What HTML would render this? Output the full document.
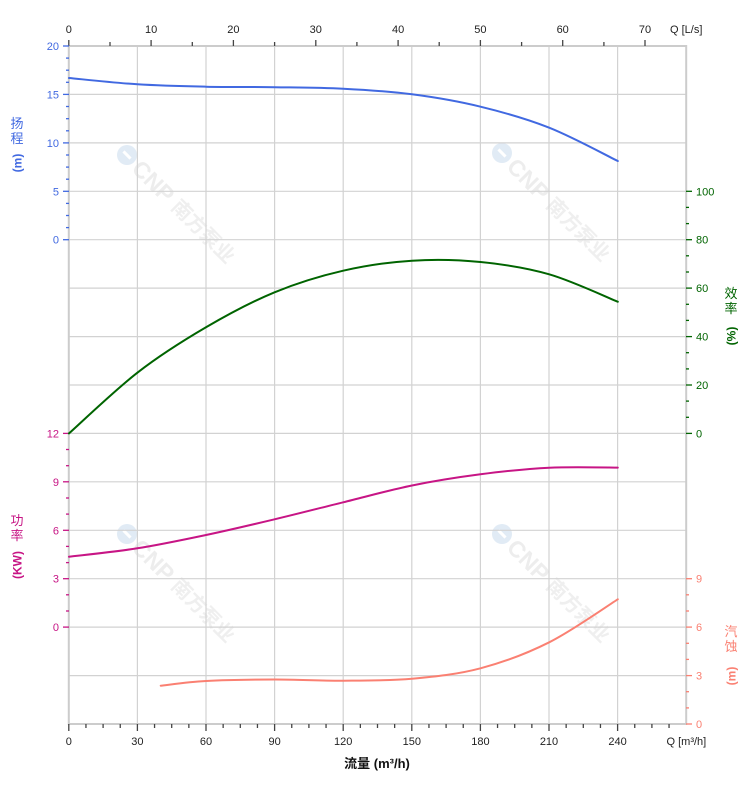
<!DOCTYPE html>
<html>
<head>
<meta charset="utf-8">
<style>
html,body{margin:0;padding:0;background:#fff;}
svg{display:block;}
text{font-family:"Liberation Sans","Noto Sans CJK SC",sans-serif;}
</style>
</head>
<body>
<svg width="752" height="797" viewBox="0 0 752 797" xmlns="http://www.w3.org/2000/svg">
<rect x="0" y="0" width="752" height="797" fill="#fff"/>

<!-- watermarks -->
<g>
  <g transform="translate(127,155) rotate(45)">
    <circle cx="0" cy="0" r="10" fill="#e1ebf5"/>
    <rect x="-5" y="-1.5" width="10" height="3" fill="#fff"/>
    <text x="13" y="8" font-size="23" font-weight="bold" fill="#ededed">CNP</text>
    <text x="68" y="7" font-size="20" font-weight="bold" fill="#efefef">南方泵业</text>
  </g>
  <g transform="translate(502,153) rotate(45)">
    <circle cx="0" cy="0" r="10" fill="#e1ebf5"/>
    <rect x="-5" y="-1.5" width="10" height="3" fill="#fff"/>
    <text x="13" y="8" font-size="23" font-weight="bold" fill="#ededed">CNP</text>
    <text x="68" y="7" font-size="20" font-weight="bold" fill="#efefef">南方泵业</text>
  </g>
  <g transform="translate(127,534) rotate(45)">
    <circle cx="0" cy="0" r="10" fill="#e1ebf5"/>
    <rect x="-5" y="-1.5" width="10" height="3" fill="#fff"/>
    <text x="13" y="8" font-size="23" font-weight="bold" fill="#ededed">CNP</text>
    <text x="68" y="7" font-size="20" font-weight="bold" fill="#efefef">南方泵业</text>
  </g>
  <g transform="translate(502,534) rotate(45)">
    <circle cx="0" cy="0" r="10" fill="#e1ebf5"/>
    <rect x="-5" y="-1.5" width="10" height="3" fill="#fff"/>
    <text x="13" y="8" font-size="23" font-weight="bold" fill="#ededed">CNP</text>
    <text x="68" y="7" font-size="20" font-weight="bold" fill="#efefef">南方泵业</text>
  </g>
</g>

<!-- grid -->
<g stroke="#d2d2d2" stroke-width="1.2">
  <line x1="68.8" y1="94.4" x2="686.2" y2="94.4"/>
  <line x1="68.8" y1="142.9" x2="686.2" y2="142.9"/>
  <line x1="68.8" y1="191.3" x2="686.2" y2="191.3"/>
  <line x1="68.8" y1="239.7" x2="686.2" y2="239.7"/>
  <line x1="68.8" y1="288.1" x2="686.2" y2="288.1"/>
  <line x1="68.8" y1="336.6" x2="686.2" y2="336.6"/>
  <line x1="68.8" y1="385.0" x2="686.2" y2="385.0"/>
  <line x1="68.8" y1="433.4" x2="686.2" y2="433.4"/>
  <line x1="68.8" y1="481.8" x2="686.2" y2="481.8"/>
  <line x1="68.8" y1="530.3" x2="686.2" y2="530.3"/>
  <line x1="68.8" y1="578.7" x2="686.2" y2="578.7"/>
  <line x1="68.8" y1="627.1" x2="686.2" y2="627.1"/>
  <line x1="68.8" y1="675.6" x2="686.2" y2="675.6"/>
  <line x1="137.4" y1="46" x2="137.4" y2="724"/>
  <line x1="206.0" y1="46" x2="206.0" y2="724"/>
  <line x1="274.6" y1="46" x2="274.6" y2="724"/>
  <line x1="343.2" y1="46" x2="343.2" y2="724"/>
  <line x1="411.8" y1="46" x2="411.8" y2="724"/>
  <line x1="480.4" y1="46" x2="480.4" y2="724"/>
  <line x1="549.0" y1="46" x2="549.0" y2="724"/>
  <line x1="617.6" y1="46" x2="617.6" y2="724"/>
</g>
<!-- frame -->
<g stroke="#cccccc" stroke-width="2" fill="none">
  <rect x="68.8" y="46" width="617.4" height="678"/>
</g>

<!-- top axis ticks -->
<g stroke="#444" stroke-width="1.3">
  <line x1="68.8" y1="46" x2="68.8" y2="40"/>
  <line x1="110.0" y1="46" x2="110.0" y2="42"/>
  <line x1="151.1" y1="46" x2="151.1" y2="40"/>
  <line x1="192.3" y1="46" x2="192.3" y2="42"/>
  <line x1="233.4" y1="46" x2="233.4" y2="40"/>
  <line x1="274.6" y1="46" x2="274.6" y2="42"/>
  <line x1="315.8" y1="46" x2="315.8" y2="40"/>
  <line x1="356.9" y1="46" x2="356.9" y2="42"/>
  <line x1="398.1" y1="46" x2="398.1" y2="40"/>
  <line x1="439.2" y1="46" x2="439.2" y2="42"/>
  <line x1="480.4" y1="46" x2="480.4" y2="40"/>
  <line x1="521.6" y1="46" x2="521.6" y2="42"/>
  <line x1="562.7" y1="46" x2="562.7" y2="40"/>
  <line x1="603.9" y1="46" x2="603.9" y2="42"/>
  <line x1="645.0" y1="46" x2="645.0" y2="40"/>
</g>
<g font-size="11" fill="#222" text-anchor="middle">
  <text x="68.8" y="33">0</text>
  <text x="151.1" y="33">10</text>
  <text x="233.4" y="33">20</text>
  <text x="315.8" y="33">30</text>
  <text x="398.1" y="33">40</text>
  <text x="480.4" y="33">50</text>
  <text x="562.7" y="33">60</text>
  <text x="645.0" y="33">70</text>
  <text x="670" y="33" text-anchor="start">Q [L/s]</text>
</g>

<!-- bottom axis ticks -->
<g stroke="#444" stroke-width="1.3">
  <line x1="68.8" y1="724" x2="68.8" y2="731"/>
  <line x1="85.95" y1="724" x2="85.95" y2="728"/>
  <line x1="103.1" y1="724" x2="103.1" y2="728"/>
  <line x1="120.25" y1="724" x2="120.25" y2="728"/>
  <line x1="137.4" y1="724" x2="137.4" y2="731"/>
  <line x1="154.55" y1="724" x2="154.55" y2="728"/>
  <line x1="171.7" y1="724" x2="171.7" y2="728"/>
  <line x1="188.85" y1="724" x2="188.85" y2="728"/>
  <line x1="206.0" y1="724" x2="206.0" y2="731"/>
  <line x1="223.15" y1="724" x2="223.15" y2="728"/>
  <line x1="240.3" y1="724" x2="240.3" y2="728"/>
  <line x1="257.45" y1="724" x2="257.45" y2="728"/>
  <line x1="274.6" y1="724" x2="274.6" y2="731"/>
  <line x1="291.75" y1="724" x2="291.75" y2="728"/>
  <line x1="308.9" y1="724" x2="308.9" y2="728"/>
  <line x1="326.05" y1="724" x2="326.05" y2="728"/>
  <line x1="343.2" y1="724" x2="343.2" y2="731"/>
  <line x1="360.35" y1="724" x2="360.35" y2="728"/>
  <line x1="377.5" y1="724" x2="377.5" y2="728"/>
  <line x1="394.65" y1="724" x2="394.65" y2="728"/>
  <line x1="411.8" y1="724" x2="411.8" y2="731"/>
  <line x1="428.95" y1="724" x2="428.95" y2="728"/>
  <line x1="446.1" y1="724" x2="446.1" y2="728"/>
  <line x1="463.25" y1="724" x2="463.25" y2="728"/>
  <line x1="480.4" y1="724" x2="480.4" y2="731"/>
  <line x1="497.55" y1="724" x2="497.55" y2="728"/>
  <line x1="514.7" y1="724" x2="514.7" y2="728"/>
  <line x1="531.85" y1="724" x2="531.85" y2="728"/>
  <line x1="549.0" y1="724" x2="549.0" y2="731"/>
  <line x1="566.15" y1="724" x2="566.15" y2="728"/>
  <line x1="583.3" y1="724" x2="583.3" y2="728"/>
  <line x1="600.45" y1="724" x2="600.45" y2="728"/>
  <line x1="617.6" y1="724" x2="617.6" y2="731"/>
  <line x1="634.75" y1="724" x2="634.75" y2="728"/>
  <line x1="651.9" y1="724" x2="651.9" y2="728"/>
  <line x1="669.05" y1="724" x2="669.05" y2="728"/>
</g>
<g font-size="11" fill="#222" text-anchor="middle">
  <text x="68.8" y="745">0</text>
  <text x="137.4" y="745">30</text>
  <text x="206.0" y="745">60</text>
  <text x="274.6" y="745">90</text>
  <text x="343.2" y="745">120</text>
  <text x="411.8" y="745">150</text>
  <text x="480.4" y="745">180</text>
  <text x="549.0" y="745">210</text>
  <text x="617.6" y="745">240</text>
  <text x="666.5" y="745" text-anchor="start">Q [m³/h]</text>
</g>
<text x="377" y="768" font-size="13" font-weight="bold" fill="#111" text-anchor="middle">流量 (m³/h)</text>

<!-- left head axis -->
<g stroke="#4169e1" stroke-width="1.3">
  <line x1="63" y1="46" x2="69" y2="46"/>
  <line x1="66" y1="58.1" x2="69" y2="58.1"/>
  <line x1="66" y1="70.2" x2="69" y2="70.2"/>
  <line x1="66" y1="82.3" x2="69" y2="82.3"/>
  <line x1="63" y1="94.4" x2="69" y2="94.4"/>
  <line x1="66" y1="106.5" x2="69" y2="106.5"/>
  <line x1="66" y1="118.7" x2="69" y2="118.7"/>
  <line x1="66" y1="130.8" x2="69" y2="130.8"/>
  <line x1="63" y1="142.9" x2="69" y2="142.9"/>
  <line x1="66" y1="155.0" x2="69" y2="155.0"/>
  <line x1="66" y1="167.1" x2="69" y2="167.1"/>
  <line x1="66" y1="179.2" x2="69" y2="179.2"/>
  <line x1="63" y1="191.3" x2="69" y2="191.3"/>
  <line x1="66" y1="203.4" x2="69" y2="203.4"/>
  <line x1="66" y1="215.5" x2="69" y2="215.5"/>
  <line x1="66" y1="227.6" x2="69" y2="227.6"/>
  <line x1="63" y1="239.7" x2="69" y2="239.7"/>
</g>
<g font-size="11" fill="#4169e1" text-anchor="end">
  <text x="59" y="50">20</text>
  <text x="59" y="98.4">15</text>
  <text x="59" y="146.9">10</text>
  <text x="59" y="195.3">5</text>
  <text x="59" y="243.7">0</text>
</g>
<g font-size="13" fill="#4169e1" text-anchor="middle">
  <text x="17" y="128">扬</text>
  <text x="17" y="143">程</text>
  <text transform="translate(17,163) rotate(-90)" y="4.5" font-size="12" font-weight="bold">(m)</text>
</g>

<!-- left power axis -->
<g stroke="#c71585" stroke-width="1.3">
  <line x1="63" y1="433.4" x2="69" y2="433.4"/>
  <line x1="66" y1="449.5" x2="69" y2="449.5"/>
  <line x1="66" y1="465.7" x2="69" y2="465.7"/>
  <line x1="63" y1="481.8" x2="69" y2="481.8"/>
  <line x1="66" y1="498.0" x2="69" y2="498.0"/>
  <line x1="66" y1="514.1" x2="69" y2="514.1"/>
  <line x1="63" y1="530.3" x2="69" y2="530.3"/>
  <line x1="66" y1="546.4" x2="69" y2="546.4"/>
  <line x1="66" y1="562.6" x2="69" y2="562.6"/>
  <line x1="63" y1="578.7" x2="69" y2="578.7"/>
  <line x1="66" y1="594.8" x2="69" y2="594.8"/>
  <line x1="66" y1="611.0" x2="69" y2="611.0"/>
  <line x1="63" y1="627.1" x2="69" y2="627.1"/>
</g>
<g font-size="11" fill="#c71585" text-anchor="end">
  <text x="59" y="437.4">12</text>
  <text x="59" y="485.8">9</text>
  <text x="59" y="534.3">6</text>
  <text x="59" y="582.7">3</text>
  <text x="59" y="631.1">0</text>
</g>
<g font-size="13" fill="#c71585" text-anchor="middle">
  <text x="17" y="525">功</text>
  <text x="17" y="540">率</text>
  <text transform="translate(17,565) rotate(-90)" y="4.5" font-size="12" font-weight="bold">(KW)</text>
</g>

<!-- right efficiency axis -->
<g stroke="#006400" stroke-width="1.3">
  <line x1="686" y1="191.3" x2="692" y2="191.3"/>
  <line x1="686" y1="207.4" x2="689" y2="207.4"/>
  <line x1="686" y1="223.6" x2="689" y2="223.6"/>
  <line x1="686" y1="239.7" x2="692" y2="239.7"/>
  <line x1="686" y1="255.8" x2="689" y2="255.8"/>
  <line x1="686" y1="272.0" x2="689" y2="272.0"/>
  <line x1="686" y1="288.1" x2="692" y2="288.1"/>
  <line x1="686" y1="304.3" x2="689" y2="304.3"/>
  <line x1="686" y1="320.4" x2="689" y2="320.4"/>
  <line x1="686" y1="336.6" x2="692" y2="336.6"/>
  <line x1="686" y1="352.7" x2="689" y2="352.7"/>
  <line x1="686" y1="368.9" x2="689" y2="368.9"/>
  <line x1="686" y1="385.0" x2="692" y2="385.0"/>
  <line x1="686" y1="401.1" x2="689" y2="401.1"/>
  <line x1="686" y1="417.3" x2="689" y2="417.3"/>
  <line x1="686" y1="433.4" x2="692" y2="433.4"/>
</g>
<g font-size="11" fill="#006400" text-anchor="start">
  <text x="696" y="195.3">100</text>
  <text x="696" y="243.7">80</text>
  <text x="696" y="292.1">60</text>
  <text x="696" y="340.6">40</text>
  <text x="696" y="389.0">20</text>
  <text x="696" y="437.4">0</text>
</g>
<g font-size="13" fill="#006400" text-anchor="middle">
  <text x="731" y="298">效</text>
  <text x="731" y="313">率</text>
  <text transform="translate(731,336) rotate(-90)" y="4.5" font-size="12" font-weight="bold">(%)</text>
</g>

<!-- right NPSH axis -->
<g stroke="#fa8072" stroke-width="1.3">
  <line x1="686" y1="578.7" x2="692" y2="578.7"/>
  <line x1="686" y1="594.8" x2="689" y2="594.8"/>
  <line x1="686" y1="611.0" x2="689" y2="611.0"/>
  <line x1="686" y1="627.1" x2="692" y2="627.1"/>
  <line x1="686" y1="643.3" x2="689" y2="643.3"/>
  <line x1="686" y1="659.4" x2="689" y2="659.4"/>
  <line x1="686" y1="675.6" x2="692" y2="675.6"/>
  <line x1="686" y1="691.7" x2="689" y2="691.7"/>
  <line x1="686" y1="707.9" x2="689" y2="707.9"/>
  <line x1="686" y1="724" x2="692" y2="724"/>
</g>
<g font-size="11" fill="#fa8072" text-anchor="start">
  <text x="696" y="582.7">9</text>
  <text x="696" y="631.1">6</text>
  <text x="696" y="679.6">3</text>
  <text x="696" y="728">0</text>
</g>
<g font-size="13" fill="#fa8072" text-anchor="middle">
  <text x="731" y="636">汽</text>
  <text x="731" y="651">蚀</text>
  <text transform="translate(731,676) rotate(-90)" y="4.5" font-size="12" font-weight="bold">(m)</text>
</g>

<!-- curves -->
<g fill="none" stroke-width="2" stroke-linecap="round" stroke-linejoin="round">
  <path stroke="#4169e1" d="M69,78 C80.4,79.05 114.6,82.85 137.4,84.3 C160.2,85.75 183.1,86.22 206,86.7 C228.9,87.18 251.7,86.87 274.6,87.2 C297.5,87.53 320.3,87.52 343.2,88.7 C366.1,89.88 389.1,91.3 412,94.3 C434.9,97.3 457.6,101.13 480.5,106.7 C503.4,112.27 526.3,118.65 549.2,127.7 C572.1,136.75 606.4,155.45 617.8,161"/>
  <path stroke="#006400" d="M69,433.4 C80.4,423.28 114.6,390.38 137.4,372.7 C160.2,355.02 183.1,340.7 206,327.3 C228.9,313.9 251.7,301.73 274.6,292.3 C297.5,282.87 320.3,275.97 343.2,270.7 C366.1,265.43 389.1,262.15 412,260.7 C434.9,259.25 457.6,259.73 480.5,262 C503.4,264.27 526.3,267.68 549.2,274.3 C572.1,280.92 606.4,297.13 617.8,301.7"/>
  <path stroke="#c71585" d="M69,556.7 C80.4,555.3 114.6,551.92 137.4,548.3 C160.2,544.68 183.1,539.83 206,535 C228.9,530.17 251.7,524.75 274.6,519.3 C297.5,513.85 320.3,507.93 343.2,502.3 C366.1,496.67 389.1,490.17 412,485.5 C434.9,480.83 457.6,477.27 480.5,474.3 C503.4,471.33 526.3,468.8 549.2,467.7 C572.1,466.6 606.4,467.5 617.8,467.6"/>
  <path stroke="#fa8072" d="M160.7,685.7 C168.25,684.92 187.02,682.03 206,681 C224.98,679.97 251.7,679.55 274.6,679.5 C297.5,679.45 320.3,680.83 343.2,680.7 C366.1,680.57 389.1,680.77 412,678.7 C434.9,676.63 457.6,674.37 480.5,668.3 C503.4,662.23 526.3,653.8 549.2,642.3 C572.1,630.8 606.4,606.47 617.8,599.3"/>
</g>
</svg>
</body>
</html>
